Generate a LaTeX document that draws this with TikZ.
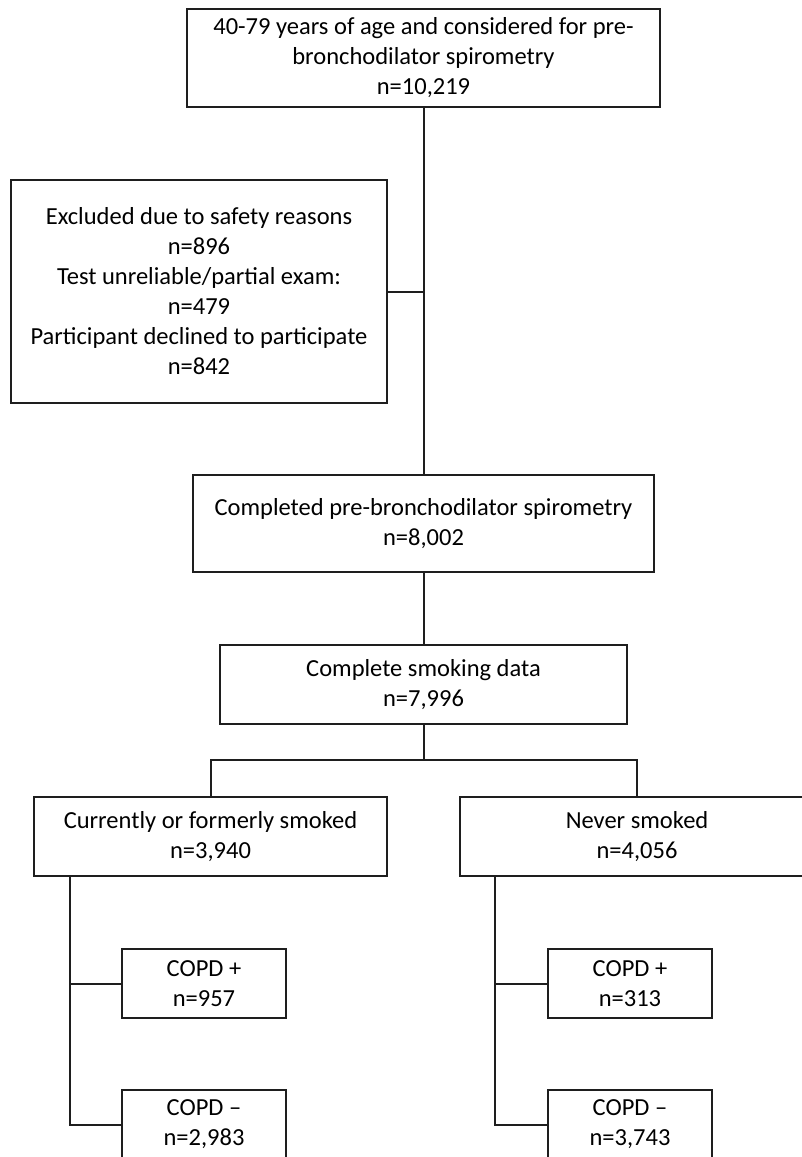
\documentclass[tikz,border=0pt]{standalone}
\usepackage{fontspec}
\setmainfont{Carlito}
\usepackage{tikz}
\usetikzlibrary{positioning}
\definecolor{myline}{RGB}{30,30,30}

\begin{document}
\begin{tikzpicture}[x=1pt,y=1pt,inner sep=0pt,outer sep=0pt,font=\fontsize{24.5}{30}\selectfont]
\tikzstyle{box}=[rectangle, draw=myline, line width=2pt, align=center, fill=white]
\tikzstyle{wire}=[draw=myline, line width=2pt]
\useasboundingbox (0,0) rectangle (802,-1157);
\node[box,minimum width=473pt,minimum height=98pt] (top) at (423.5,-58) {40-79 years of age and considered for pre-\\bronchodilator spirometry\\n=10,219};
\node[box,minimum width=376pt,minimum height=223pt] (excl) at (199,-291.5) {Excluded due to safety reasons\\n=896\\Test unreliable/partial exam:\\n=479\\Participant declined to participate\\n=842};
\node[box,minimum width=461pt,minimum height=97pt] (done) [below=368pt of top] {Completed pre-bronchodilator spirometry\\n=8,002};
\node[box,minimum width=407pt,minimum height=79pt] (smoke) [below=73pt of done] {Complete smoking data\\n=7,996};
\node[box,minimum width=353pt,minimum height=79pt] (ever) [below=73pt of smoke,xshift=-213pt] {Currently or formerly smoked\\n=3,940};
\node[box,minimum width=354pt,minimum height=79pt] (never) [below=73pt of smoke,xshift=213.5pt] {Never smoked\\n=4,056};
\node[box,minimum width=164pt,minimum height=69pt] (evpos) [below=73pt of ever,xshift=-6.5pt] {COPD +\\n=957};
\node[box,minimum width=164pt,minimum height=69pt] (evneg) [below=72pt of evpos] {COPD –\\n=2,983};
\node[box,minimum width=164pt,minimum height=69pt] (nvpos) [below=73pt of never,xshift=-7pt] {COPD +\\n=313};
\node[box,minimum width=164pt,minimum height=69pt] (nvneg) [below=72pt of nvpos] {COPD –\\n=3,743};
\coordinate (fork) at ([yshift=-36pt]smoke.south);
\coordinate (evtrunk) at ([xshift=36pt]ever.south west);
\coordinate (nvtrunk) at ([xshift=35pt]never.south west);
\path[wire] (top.south) -- (done.north);
\path[wire] (excl.east) -- (excl.east -| top.south);
\path[wire] (done.south) -- (smoke.north);
\path[wire] (smoke.south) -- (fork);
\path[wire] (ever.north) |- (fork) -| (never.north);
\path[wire] (evtrunk) |- (evneg.west);
\path[wire] (evtrunk |- evpos.west) -- (evpos.west);
\path[wire] (nvtrunk) |- (nvneg.west);
\path[wire] (nvtrunk |- nvpos.west) -- (nvpos.west);
\end{tikzpicture}
\end{document}
